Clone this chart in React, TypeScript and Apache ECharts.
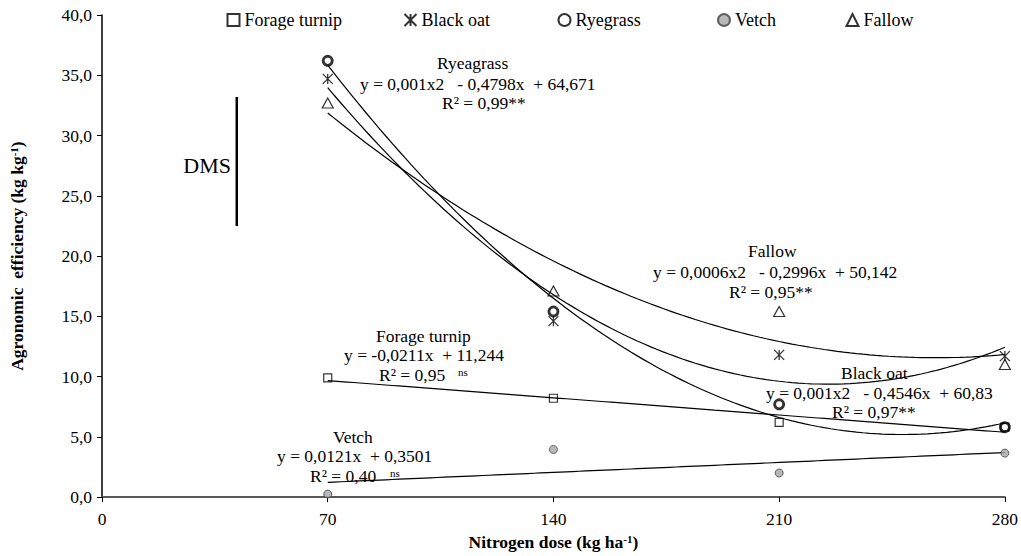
import React, { useEffect, useRef } from "react";
import * as echarts from "echarts";

// ---- data ----
const doses = [70, 140, 210, 280];
const forageTurnip = [9.9, 8.2, 6.2, 5.8];
const blackOat = [34.7, 14.6, 11.8, 11.7];
const ryegrass = [36.2, 15.4, 7.7, 5.8];
const vetch = [0.25, 3.95, 2.0, 3.65];
const fallow = [32.7, 17.1, 15.4, 11.0];
const seriesNames = ["Forage turnip", "Black oat", "Ryegrass", "Vetch", "Fallow"];
const trendDegree = [1, 2, 2, 1, 2];
const dmsDose = [41.8, 41.8];
const dmsValues = [33.2, 22.5];
const xMin = 0, xMax = 280, xStep = 70;
const yMin = 0, yMax = 40, yStep = 5;

const FONT = "'Liberation Serif', 'Times New Roman', serif";

function polyfit(xs: number[], ys: number[], deg: number): number[] {
  const n = deg + 1;
  const A: number[][] = [];
  for (let r = 0; r < n; r++) {
    const row: number[] = [];
    for (let c = 0; c < n; c++) row.push(xs.reduce((s, x) => s + Math.pow(x, r + c), 0));
    row.push(xs.reduce((s, x, i) => s + ys[i] * Math.pow(x, r), 0));
    A.push(row);
  }
  for (let i = 0; i < n; i++) {
    let p = i;
    for (let k = i + 1; k < n; k++) if (Math.abs(A[k][i]) > Math.abs(A[p][i])) p = k;
    const t = A[i]; A[i] = A[p]; A[p] = t;
    for (let k = 0; k < n; k++) {
      if (k === i) continue;
      const f = A[k][i] / A[i][i];
      for (let j = i; j <= n; j++) A[k][j] -= f * A[i][j];
    }
  }
  return A.map((row, i) => row[n] / row[i]);
}

function trend(ys: number[], deg: number): number[][] {
  const c = polyfit(doses, ys, deg);
  const pts: number[][] = [];
  for (let x = doses[0]; x <= doses[doses.length - 1]; x += 2) {
    let y = 0;
    for (let k = 0; k < c.length; k++) y += c[k] * Math.pow(x, k);
    pts.push([x, y]);
  }
  return pts;
}

const allValues = [forageTurnip, blackOat, ryegrass, vetch, fallow];

const symbols: any[] = [
  { symbol: "rect", symbolSize: 8, itemStyle: { color: "none", borderColor: "#000", borderWidth: 1.2 } },
  { symbol: "path://M0,0L10,10M10,0L0,10M5,0L5,10", symbolSize: 10, itemStyle: { color: "none", borderColor: "#000", borderWidth: 1.3 } },
  { symbol: "circle", symbolSize: 9, itemStyle: { color: "none", borderColor: "#000", borderWidth: 2.8 } },
  { symbol: "circle", symbolSize: 8, itemStyle: { color: "#a6a6a6", borderColor: "#404040", borderWidth: 1 } },
  { symbol: "triangle", symbolSize: [11, 10], itemStyle: { color: "none", borderColor: "#000", borderWidth: 1.2 } },
];

const legendCenters = [226, 403, 557, 718, 845];

function txt(text: string, x: number, y: number, size = 17.5, align = "left") {
  return {
    type: "text",
    x,
    y,
    silent: true,
    style: { text, fill: "#000", font: `${size}px ${FONT}`, textAlign: align, textVerticalAlign: "middle" },
  };
}

export default function App() {
  const ref = useRef<HTMLDivElement>(null);
  useEffect(() => {
    document.body.style.margin = "0";
    if (!ref.current) return;
    const chart = echarts.init(ref.current, undefined, { renderer: "svg" });

    const scatterSeries = seriesNames.map((name, i) => ({
      name,
      type: "scatter",
      data: doses.map((d, j) => [d, allValues[i][j]]),
      z: 5,
      emphasis: { disabled: true },
      ...symbols[i],
    }));
    const trendSeries = seriesNames.map((name, i) => ({
      name: name + " trend",
      type: "line",
      data: trend(allValues[i], trendDegree[i]),
      showSymbol: false,
      symbol: "none",
      lineStyle: { color: "#000", width: 1.2 },
      z: 3,
      silent: true,
    }));
    const dmsSeries = {
      name: "DMS",
      type: "line",
      data: dmsDose.map((d, i) => [d, dmsValues[i]]),
      showSymbol: false,
      symbol: "none",
      lineStyle: { color: "#000", width: 2.5 },
      silent: true,
    };

    const supStyle = { fontFamily: FONT, fontSize: 11, fontWeight: "bold", verticalAlign: "top", color: "#000", padding: [0, 0, 6, 0] };

    chart.setOption({
      animation: false,
      backgroundColor: "#fff",
      grid: { left: 102, right: 15, top: 15, bottom: 56, containLabel: false },
      legend: seriesNames.map((name, i) => ({
        data: [name],
        left: legendCenters[i] - 6,
        top: 6,
        itemWidth: 12,
        itemHeight: 12,
        selectedMode: false,
        textStyle: { fontFamily: FONT, fontSize: 18, color: "#000" },
      })),
      xAxis: {
        type: "value",
        min: xMin,
        max: xMax,
        interval: xStep,
        name: "Nitrogen dose (kg ha{sup|-1})",
        nameLocation: "middle",
        nameGap: 35,
        nameTextStyle: { fontFamily: FONT, fontSize: 17.5, fontWeight: "bold", color: "#000", rich: { sup: supStyle } },
        axisLine: { lineStyle: { color: "#595959", width: 2 } },
        axisTick: { show: true, inside: false, length: 5, lineStyle: { color: "#000" } },
        axisLabel: { margin: 13, fontFamily: FONT, fontSize: 17.5, color: "#000" },
        splitLine: { show: false },
      },
      yAxis: {
        type: "value",
        min: yMin,
        max: yMax,
        interval: yStep,
        name: "Agronomic  efficiency (kg kg{sup|-1})",
        nameLocation: "middle",
        nameRotate: 90,
        nameGap: 76,
        nameTextStyle: { fontFamily: FONT, fontSize: 17.5, fontWeight: "bold", color: "#000", rich: { sup: supStyle } },
        axisLine: { show: true, lineStyle: { color: "#000", width: 1.5 } },
        axisTick: { show: true, inside: false, length: 5, lineStyle: { color: "#000" } },
        axisLabel: {
          margin: 10, fontFamily: FONT, fontSize: 17.5, color: "#000",
          formatter: (v: number) => v.toFixed(1).replace(".", ","),
        },
        splitLine: { show: false },
      },
      series: [...trendSeries, dmsSeries, ...scatterSeries],
      graphic: [
        txt("Ryeagrass", 437, 63),
        txt("y = 0,001x2   - 0,4798x  + 64,671", 360, 84),
        txt("R² = 0,99**", 442, 103),
        txt("Fallow", 748, 251),
        txt("y = 0,0006x2   - 0,2996x  + 50,142", 653, 272),
        txt("R² = 0,95**", 729, 292),
        txt("Black oat", 841, 373),
        txt("y = 0,001x2   - 0,4546x  + 60,83", 766, 393),
        txt("R² = 0,97**", 832, 412),
        txt("Forage turnip", 376, 336),
        txt("y = -0,0211x  + 11,244", 344, 355),
        txt("R² = 0,95", 379, 375),
        txt("ns", 458, 372, 11),
        txt("Vetch", 333, 437),
        txt("y = 0,0121x  + 0,3501", 277, 456),
        txt("R² = 0,40", 310, 476),
        txt("ns", 390, 473, 11),
        txt("DMS", 231, 165, 22, "right"),
      ],
    });
    return () => chart.dispose();
  }, []);
  return <div ref={ref} style={{ width: 1021, height: 556 }} />;
}
